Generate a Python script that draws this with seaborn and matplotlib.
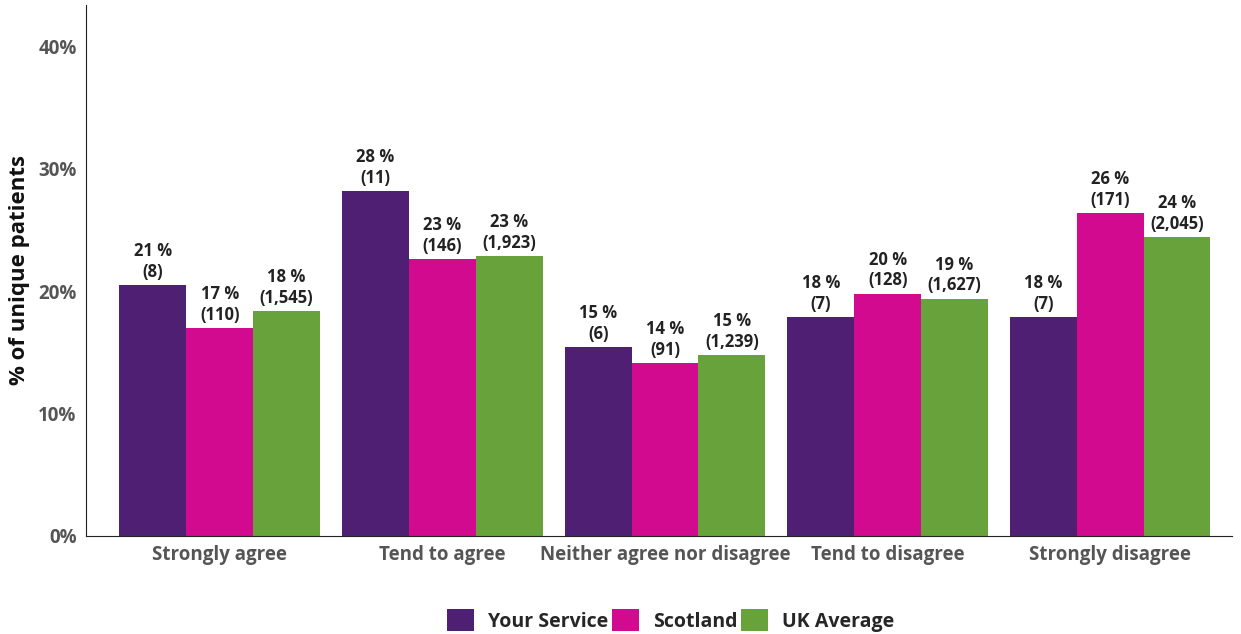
import matplotlib
matplotlib.use("Agg")
import matplotlib.pyplot as plt
import seaborn as sns
import pandas as pd

categories = ["Strongly agree", "Tend to agree", "Neither agree nor disagree",
              "Tend to disagree", "Strongly disagree"]
groups = ["Your Service", "Scotland", "UK Average"]

your_service_pct = [20.5, 28.2, 15.4, 17.9, 17.9]
scotland_pct = [17.0, 22.6, 14.1, 19.8, 26.4]
uk_pct = [18.4, 22.9, 14.8, 19.4, 24.4]

your_service_n = ["8", "11", "6", "7", "7"]
scotland_n = ["110", "146", "91", "128", "171"]
uk_n = ["1,545", "1,923", "1,239", "1,627", "2,045"]

colors = ["#4F1F74", "#D20A8F", "#67A33A"]

df = pd.DataFrame({
    "category": categories * 3,
    "group": [g for g in groups for _ in categories],
    "pct": your_service_pct + scotland_pct + uk_pct,
})

sns.set_style("white")
plt.rcParams["font.family"] = ["Open Sans", "DejaVu Sans"]

fig = plt.figure(figsize=(12.41, 6.34), dpi=100)
ax = fig.add_axes([0.069, 0.155, 0.924, 0.837])

sns.barplot(data=df, x="category", y="pct", hue="group", order=categories,
            hue_order=groups, palette=colors, width=0.9, saturation=1,
            edgecolor="none", ax=ax)

counts = [your_service_n, scotland_n, uk_n]
pcts = [your_service_pct, scotland_pct, uk_pct]
for cont, p, n in zip(ax.containers, pcts, counts):
    labels = [f"{int(v + 0.5):d} %\n({c})" for v, c in zip(p, n)]
    ax.bar_label(cont, labels=labels, padding=3, fontsize=12,
                 fontweight="bold", color="#222222", linespacing=1.2)

ax.set_ylim(0, 43.4)
ax.set_xlim(-0.602, 4.548)
ax.set_yticks([0, 10, 20, 30, 40])
ax.set_yticklabels(["0%", "10%", "20%", "30%", "40%"])
ax.tick_params(axis="both", length=3, width=0.8, color="#333333",
               labelcolor="#555555")
ax.tick_params(axis="x", labelsize=13.5)
ax.tick_params(axis="y", labelsize=13.5)
for t in ax.get_xticklabels() + ax.get_yticklabels():
    t.set_fontweight("bold")
ax.set_xlabel("")
ax.set_ylabel("% of unique patients", fontsize=16, fontweight="bold",
              color="#111111", labelpad=6)

sns.despine(ax=ax)
ax.spines["left"].set_color("#222222")
ax.spines["bottom"].set_color("#222222")

ax.legend(loc="upper center", bbox_to_anchor=(0.51, -0.105), ncol=3,
          frameon=False, handlelength=1.4, handleheight=1.4,
          handletextpad=0.7, columnspacing=0.2,
          prop={"weight": "bold", "size": 14})

fig.savefig("out.png", dpi=100)
